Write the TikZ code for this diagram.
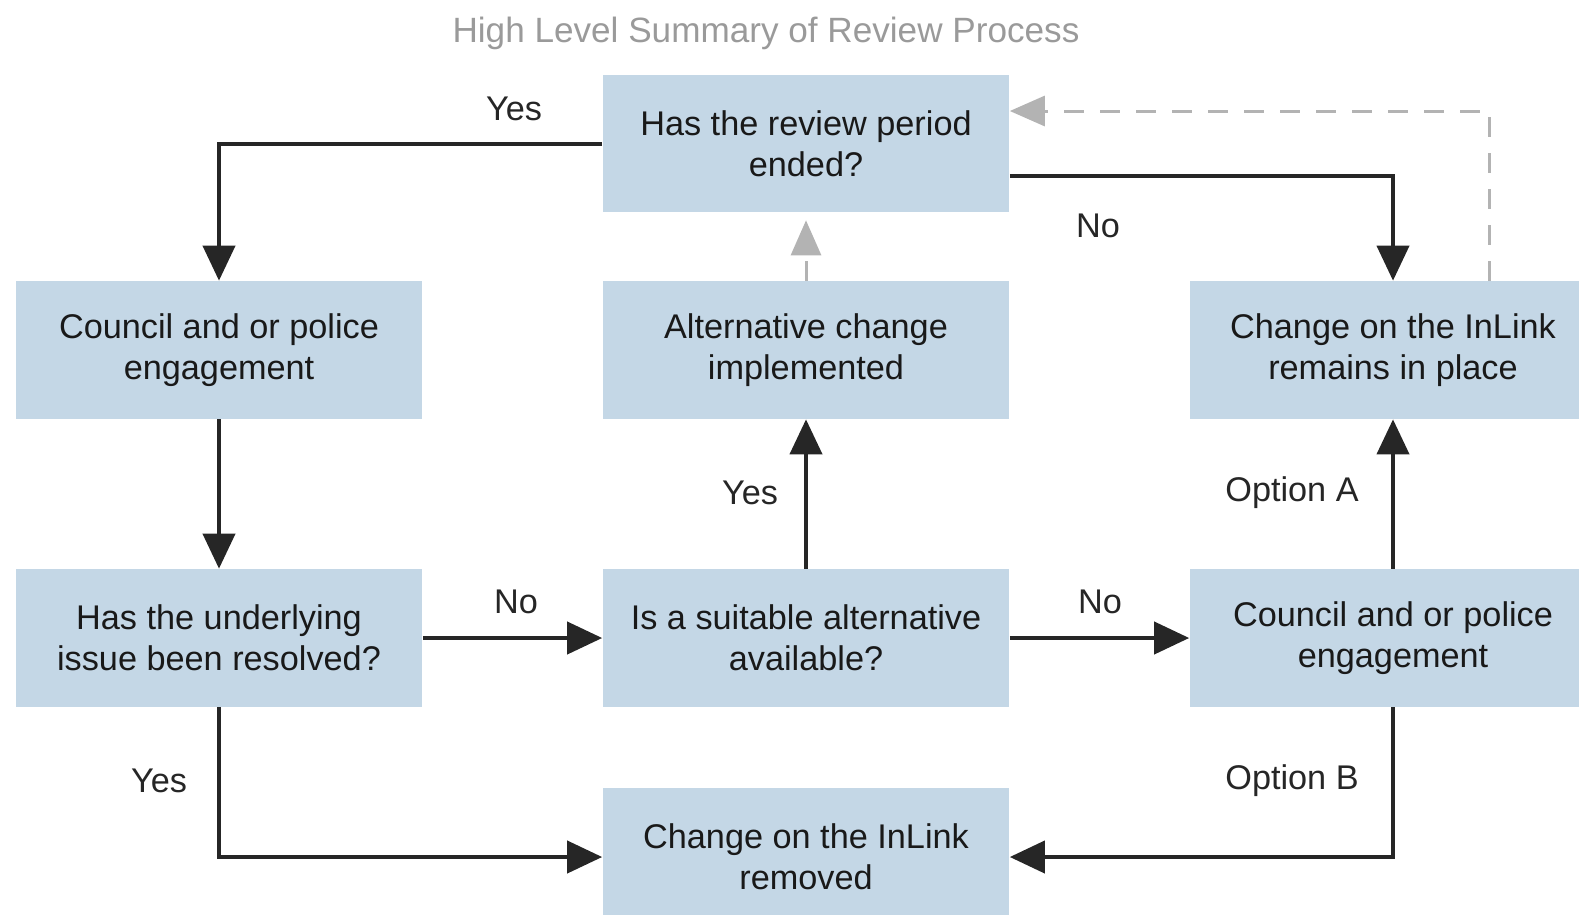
\documentclass[tikz,border=0pt]{standalone}
\usepackage{fontspec}
\setmainfont{Liberation Sans}
\usepackage{xcolor}
\usepackage{tikz}
\usetikzlibrary{arrows.meta}
\definecolor{boxblue}{HTML}{C4D7E6}
\definecolor{dashgrey}{HTML}{B3B3B3}
\definecolor{titlegrey}{HTML}{9A9A9A}

\begin{document}
\begin{tikzpicture}[x=0.02cm, y=-0.02cm,%
% common options for the boxes:
stepbox/.style = {fill=boxblue, align=center, inner sep=0,
            minimum width=8.14cm, minimum height=2.76cm,
            font=\fontsize{19.5}{23.5}\selectfont, text=black!90},
% common options for the labels on the arrows:
lbl/.style = {font=\fontsize{19.5}{23.5}\selectfont, text=black!85},
% solid and dashed connectors:
flow/.style = {line width=0.08cm, black!85,
            -{Triangle[length=0.7cm, width=0.64cm]}},
back/.style = {line width=0.06cm, dashgrey, dash pattern=on 0.4cm off 0.32cm,
            -{Triangle[length=0.7cm, width=0.6cm]}}]
\useasboundingbox (0,0) rectangle (1579,914);
\node[titlegrey, font=\fontsize{20}{24}\selectfont] (title) at (766,33) {High Level Summary of Review Process};
\node[stepbox] (T0) at (806,143.5) {Has the review period\\ended?};
\node[stepbox] (L1) at (219,350) {Council and or police\\engagement};
\node[stepbox] (M1) at (806,350) {Alternative change\\implemented};
\node[stepbox] (R1) at (1393,350) {Change on the InLink\\remains in place};
\node[stepbox] (L2) at (219,638) {Has the underlying\\issue been resolved?};
\node[stepbox] (M2) at (806,638) {Is a suitable alternative\\available?};
\node[stepbox] (R2) at (1393,638) {Council and or police\\engagement};
\node[stepbox] (B3) at (806,857) {Change on the InLink\\removed};
\node[lbl] (yesT) at (514,109) {Yes};
\node[lbl] (noT) at (1098,226) {No};
\node[lbl] (noL) at (516,602) {No};
\node[lbl] (noM) at (1100,602) {No};
\node[lbl] (yesM) at (750,493) {Yes};
\node[lbl] (optA) at (1292,493) {Option A};
\node[lbl] (yesL) at (159,781) {Yes};
\node[lbl] (optB) at (1292,781) {Option B};
\draw[flow] (T0.west) -| (L1.north);
\draw[flow] ([yshift=-0.65cm]T0.east) -| (R1.north);
\draw[back] ([xshift=1.94cm]R1.north) |- ([yshift=0.65cm]T0.east);
\draw[back] (M1.north) -- ([yshift=-0.15cm]T0.south);
\draw[flow] (L1.south) -- (L2.north);
\draw[flow] (L2.east) -- (M2.west);
\draw[flow] (M2.east) -- (R2.west);
\draw[flow] (M2.north) -- (M1.south);
\draw[flow] (R2.north) -- (R1.south);
\draw[flow] (L2.south) |- (B3.west);
\draw[flow] (R2.south) |- (B3.east);
\end{tikzpicture}
\end{document}
